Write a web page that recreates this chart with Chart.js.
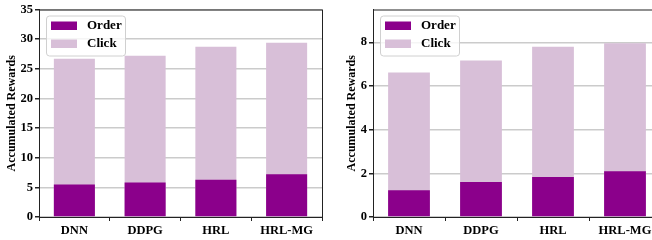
<!DOCTYPE html>
<html>
<head>
<meta charset="utf-8">
<script src="https://cdn.jsdelivr.net/npm/chart.js@4.4.0/dist/chart.umd.min.js"></script>
<style>
  html, body { margin: 0; padding: 0; background: #fff; overflow: hidden; width: 652px; height: 240px; }
  canvas { position: absolute; top: 0; }
  #leftChart { left: 0; }
  #rightChart { left: 330px; }
</style>
</head>
<body>
<canvas id="leftChart" width="330" height="240"></canvas>
<canvas id="rightChart" width="339" height="240"></canvas>
<script>
const categories = ["DNN", "DDPG", "HRL", "HRL-MG"];
const seriesNames = ["Order", "Click"];
const leftOrder = [5.5, 5.8, 6.3, 7.2];
const leftClick = [26.7, 27.2, 28.7, 29.4];
const rightOrder = [1.23, 1.6, 1.83, 2.1];
const rightClick = [6.62, 7.17, 7.8, 7.96];

const orderColor = "#8b008b";
const clickColor = "#d8bfd8";
const fontFamily = "'Liberation Serif', 'Times New Roman', serif";

// frame + in-plot legend
const framePlugin = {
  id: "frame",
  afterDraw(chart) {
    const ctx = chart.ctx;
    const area = chart.chartArea;
    ctx.save();
    ctx.strokeStyle = "#222";
    ctx.lineWidth = 1;
    ctx.strokeRect(area.left + 0.5, area.top + 0.5, area.right - area.left, area.bottom - area.top);

    const bx = area.left + 7;
    const by = area.top + 6;
    const bw = 79;
    const bh = 40;
    ctx.fillStyle = "rgba(255,255,255,0.8)";
    ctx.strokeStyle = "#d0d0d0";
    ctx.beginPath();
    ctx.roundRect(bx + 0.5, by + 0.5, bw, bh, 3);
    ctx.fill();
    ctx.stroke();

    ctx.font = "bold 13px " + fontFamily;
    ctx.textBaseline = "middle";
    chart.data.datasets.forEach((ds, i) => {
      const y = by + 6 + i * 18;
      ctx.fillStyle = ds.backgroundColor;
      ctx.fillRect(bx + 5, y, 26, 8.5);
      ctx.fillStyle = "#000";
      ctx.fillText(ds.label, bx + 41, y + 4.5);
    });
    ctx.restore();
  },
};

function makeChart(id, orderValues, clickValues, yMax, yStep, yWidth, titlePad) {
  new Chart(document.getElementById(id), {
    type: "bar",
    data: {
      labels: categories,
      datasets: [
        { label: seriesNames[0], data: orderValues, backgroundColor: orderColor },
        { label: seriesNames[1], data: clickValues, backgroundColor: clickColor },
      ],
    },
    options: {
      responsive: false,
      animation: false,
      layout: { padding: { top: 8, right: 8, left: 0, bottom: 0 } },
      datasets: { bar: { barPercentage: 0.58, categoryPercentage: 1 } },
      plugins: { legend: { display: false }, tooltip: { enabled: false } },
      scales: {
        x: {
          stacked: true,
          afterFit: (s) => { s.height = 23; },
          grid: { drawOnChartArea: false, tickLength: 4, tickColor: "#222" },
          border: { color: "#222" },
          ticks: { color: "#000", padding: 2, font: { family: fontFamily, size: 12.5, weight: "bold" } },
        },
        y: {
          stacked: false,
          min: 0,
          max: yMax,
          z: 1,
          afterFit: (s) => { s.width = yWidth; },
          afterBuildTicks: (s) => { s.ticks = s.ticks.filter((t) => t.value % yStep === 0); },
          grid: { color: "rgba(185,185,185,0.75)", lineWidth: 1.5, tickLength: 4, tickColor: "#222" },
          border: { color: "#222" },
          ticks: { stepSize: yStep, color: "#000", padding: 2, font: { family: fontFamily, size: 12.5, weight: "bold" } },
          title: {
            display: true,
            text: "Accumulated Rewards",
            color: "#000",
            padding: { top: titlePad, bottom: 0 },
            font: { family: fontFamily, size: 12, weight: "bold" },
          },
        },
      },
    },
    plugins: [framePlugin],
  });
}

makeChart("leftChart", leftOrder, leftClick, 35, 5, 39, 5);
makeChart("rightChart", rightOrder, rightClick, 9.5, 2, 43, 15);
</script>
</body>
</html>
